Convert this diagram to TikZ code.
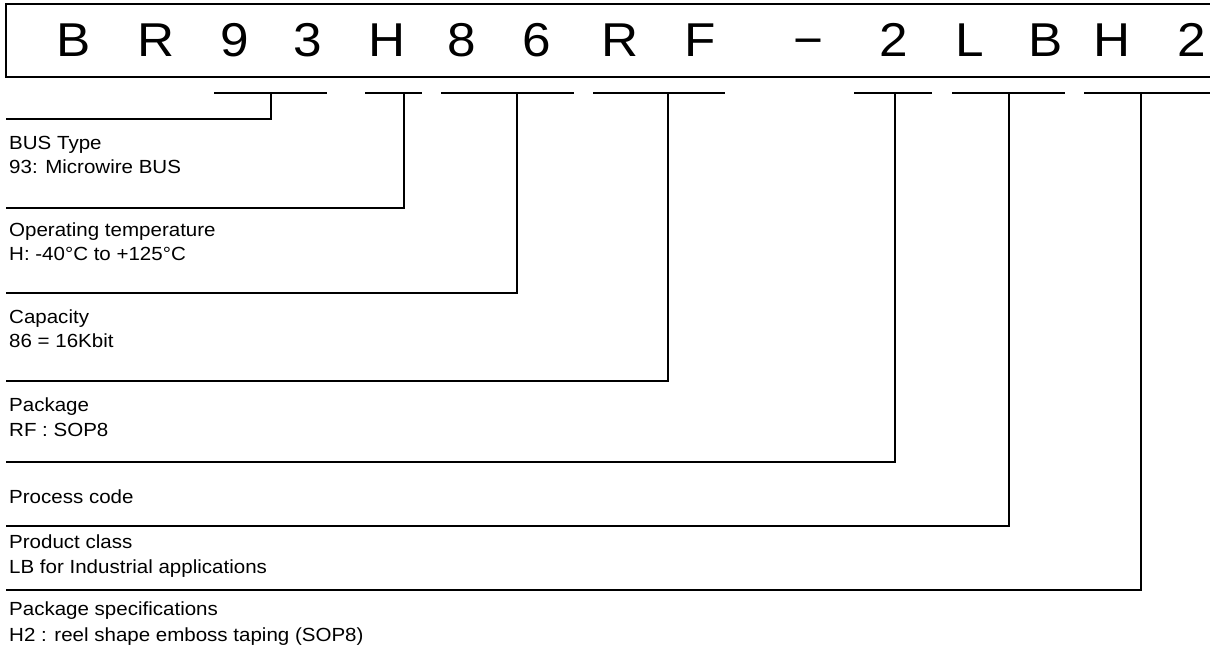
\documentclass[tikz,border=0pt]{standalone}
\usepackage{fontspec}
\setmainfont{Liberation Sans}[FakeStretch=1.08]
\usetikzlibrary{positioning}

\begin{document}
\begin{tikzpicture}[x=1pt, y=-1pt,
    code/.style={font=\fontsize{47.5}{50}\selectfont, anchor=base, inner sep=0pt},
    lbl/.style={font=\fontsize{19}{24.5}\selectfont, anchor=base west, align=left, inner sep=0pt},
    rule/.style={line width=1.7pt}]
  \clip (0,0) rectangle (1210,652);
  % part number box
  \draw[line width=1.8pt] (6,4) rectangle (1240,77);
  \foreach \ch/\xx [count=\i] in {B/74, R/156, 9/235, 3/308, H/387, 8/462, 6/537,
      R/620, F/700, −/808, 2/894, L/970, B/1046, H/1112, 2/1192}
    \node[code] (c\i) at (\xx,57) {\ch};
  % underlines and brackets
  \foreach \nm/\ua/\ub/\uk/\uy in {bus/214/327/271/119, temp/365/422/404/208,
      cap/441/574/517/293, pkg/593/725/668/381, proc/854/932/895/462,
      cls/952/1065/1009/526, spec/1084/1230/1141/590} {
    \coordinate (\nm-a) at (\ua,93);
    \coordinate (\nm-b) at (\ub,93);
    \coordinate (\nm-k) at (\uk,93);
    \coordinate (\nm-e) at (6,\uy);
    \draw[rule] (\nm-a) -- (\nm-b);
    \draw[rule] (\nm-k) |- (\nm-e);
  }
  % descriptions (base = last line)
  \node[lbl] (bus)  at (9,174) {BUS Type\\93: Microwire BUS};
  \node[lbl] (temp) at (9,261) {Operating temperature\\H: -40°C to +125°C};
  \node[lbl] (cap)  at (9,348) {Capacity\\86 = 16Kbit};
  \node[lbl] (pkg)  at (9,436) {Package\\RF : SOP8};
  \node[lbl] (proc) at (9,503) {Process code};
  \node[lbl] (cls)  at (9,573) {Product class\\LB for Industrial applications};
  \node[lbl] (spec) at (9,641) {Package specifications\\[1.5pt]H2 : reel shape emboss taping (SOP8)};
\end{tikzpicture}
\end{document}
